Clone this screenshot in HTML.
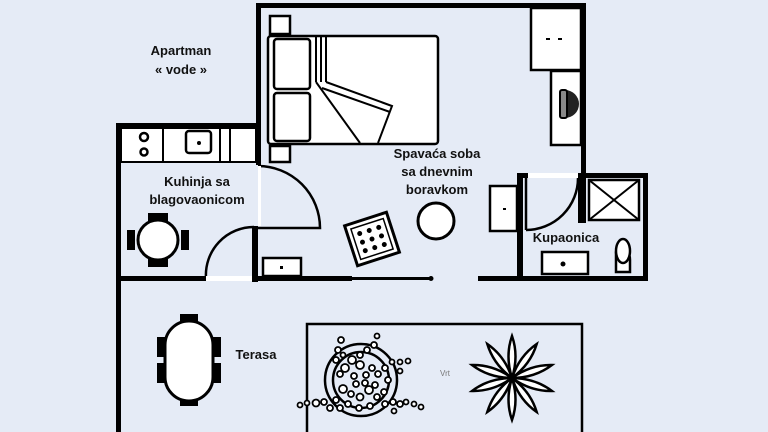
<!DOCTYPE html>
<html><head><meta charset="utf-8"><style>
html,body{margin:0;padding:0;background:#e5ebf6;}
svg{display:block}
text{font-family:"Liberation Sans",sans-serif;font-weight:bold;fill:#111;font-size:13px;text-anchor:middle}
</style></head><body>
<svg width="768" height="432" viewBox="0 0 768 432" xmlns="http://www.w3.org/2000/svg">
<rect width="768" height="432" fill="#e5ebf6"/>
<g fill="#000">
<rect x="256" y="3" width="330" height="5"/>
<rect x="256" y="3" width="5" height="162"/>
<rect x="581" y="3" width="5" height="172"/>
<rect x="116" y="123" width="145" height="5"/>
<rect x="116" y="123" width="5" height="309"/>
<rect x="116" y="276" width="90" height="5"/>
<rect x="252" y="226" width="6" height="56"/>
<rect x="252" y="276" width="100" height="5"/>
<rect x="352" y="277" width="80" height="3"/>
<circle cx="431" cy="278.5" r="2.5"/>
<rect x="478" y="276" width="170" height="5"/>
<rect x="517" y="174" width="6" height="107"/>
<rect x="517" y="173" width="11" height="5"/>
<rect x="578" y="173" width="70" height="5"/>
<rect x="643" y="173" width="5" height="108"/>
<rect x="578" y="173" width="8" height="50"/>
</g>
<g fill="none" stroke="#000" stroke-width="2.5">
<path d="M258 166 A62 62 0 0 1 320 228 L258 228"/>
<path d="M254 227 A48 48 0 0 0 206 278"/>
<path d="M578 178 A52 52 0 0 1 526 230"/>
<line x1="526" y1="178" x2="526" y2="230"/>
</g>
<rect x="258" y="166" width="3" height="60" fill="#fff"/>
<rect x="206" y="276" width="46" height="5" fill="#fff"/>
<rect x="528" y="173" width="50" height="5" fill="#fff"/>
<g fill="#fff" stroke="#000" stroke-width="2">
<rect x="121" y="128" width="135" height="34"/>
<line x1="163" y1="128" x2="163" y2="162"/>
<line x1="220" y1="128" x2="220" y2="162"/>
<line x1="230" y1="128" x2="230" y2="162"/>
<circle cx="144" cy="137" r="4" stroke-width="2.5"/>
<circle cx="144" cy="152" r="3.5" stroke-width="2.5"/>
<rect x="186" y="131" width="25" height="22" rx="3" stroke-width="2.5"/>
</g>
<circle cx="199" cy="143" r="2" fill="#000"/>
<g fill="#fff" stroke="#000" stroke-width="2.5">
<rect x="270" y="16" width="20" height="18"/>
<rect x="270" y="146" width="20" height="16"/>
<rect x="268" y="36" width="170" height="108" rx="3"/>
<rect x="274" y="39" width="36" height="50" rx="3"/>
<rect x="274" y="93" width="36" height="48" rx="3"/>
<line x1="316" y1="37" x2="316" y2="82" stroke-width="2"/>
<line x1="321" y1="37" x2="321" y2="82" stroke-width="2"/>
<line x1="326" y1="37" x2="326" y2="82" stroke-width="2"/>
<path d="M316 82 L360 143 M326 82 L392 106 L378 143" stroke-width="2"/>
<path d="M322 88 L390 112" stroke-width="2"/>
</g>
<g fill="#fff" stroke="#000" stroke-width="2.5">
<rect x="531" y="8" width="50" height="62"/>
<rect x="551" y="71" width="30" height="74"/>
<rect x="490" y="186" width="27" height="45"/>
<rect x="263" y="258" width="38" height="18"/>
</g>
<g fill="#000"><rect x="546" y="38" width="4" height="2"/><rect x="558" y="38" width="4" height="2"/><rect x="503" y="208" width="3" height="2"/><rect x="280" y="266" width="3" height="3"/></g>
<path d="M565 90 a14 14 0 0 1 0 28 z" fill="#222"/>
<rect x="560" y="90" width="7" height="28" rx="2" fill="#888" stroke="#000" stroke-width="2"/>
<g fill="#fff" stroke="#000" stroke-width="2.5">
<rect x="589" y="180" width="50" height="40"/>
<path d="M589 180 L639 220 M639 180 L589 220" stroke-width="2"/>
<rect x="542" y="252" width="46" height="22"/>
<path d="M616 252 L616 272 L630 272 L630 260 A8 12 0 0 0 616 252Z"/>
<ellipse cx="623" cy="251" rx="7" ry="12"/>
</g>
<circle cx="563" cy="264" r="2.5" fill="#000"/>
<g transform="rotate(-18 372 239)">
<rect x="350" y="218" width="44" height="42" fill="#fff" stroke="#000" stroke-width="3"/>
<rect x="355" y="223" width="34" height="32" fill="none" stroke="#000" stroke-width="1.5"/>
<g fill="#000">
<circle cx="362" cy="230" r="2.5"/><circle cx="372" cy="230" r="2.5"/><circle cx="382" cy="230" r="2.5"/>
<circle cx="362" cy="239" r="2.5"/><circle cx="372" cy="239" r="2.5"/><circle cx="382" cy="239" r="2.5"/>
<circle cx="362" cy="248" r="2.5"/><circle cx="372" cy="248" r="2.5"/><circle cx="382" cy="248" r="2.5"/>
</g></g>
<circle cx="436" cy="221" r="18" fill="#fff" stroke="#000" stroke-width="3"/>
<g fill="#000">
<rect x="148" y="213" width="20" height="8"/><rect x="148" y="259" width="20" height="8"/>
<rect x="127" y="230" width="8" height="20"/><rect x="181" y="230" width="8" height="20"/>
<rect x="180" y="314" width="18" height="12"/><rect x="180" y="394" width="18" height="12"/>
<rect x="157" y="337" width="10" height="20"/><rect x="157" y="363" width="10" height="20"/>
<rect x="211" y="337" width="10" height="20"/><rect x="211" y="363" width="10" height="20"/>
</g>
<circle cx="158" cy="240" r="20" fill="#fff" stroke="#000" stroke-width="3"/>
<rect x="165" y="321" width="48" height="80" rx="24" fill="#fff" stroke="#000" stroke-width="3"/>
<rect x="307" y="324" width="275" height="112" fill="none" stroke="#000" stroke-width="2.5"/>
<g fill="none" stroke="#000" stroke-width="2.5">
<circle cx="361" cy="380" r="36"/><circle cx="361" cy="380" r="28"/>
</g>
<g fill="#fff" stroke="#000" stroke-width="1.8">
<circle cx="341" cy="340" r="3"/><circle cx="338" cy="350" r="3"/><circle cx="336" cy="360" r="3"/><circle cx="343" cy="355" r="2.5"/><circle cx="340" cy="374" r="3"/>
<circle cx="345" cy="368" r="4"/><circle cx="352" cy="360" r="4"/><circle cx="360" cy="355" r="3"/><circle cx="367" cy="350" r="3"/><circle cx="374" cy="345" r="3"/><circle cx="377" cy="336" r="2.5"/>
<circle cx="360" cy="365" r="4"/><circle cx="354" cy="376" r="3"/><circle cx="366" cy="375" r="3"/><circle cx="372" cy="368" r="3"/><circle cx="378" cy="374" r="3"/><circle cx="385" cy="368" r="3"/>
<circle cx="392" cy="362" r="2.5"/><circle cx="400" cy="362" r="2.5"/><circle cx="408" cy="361" r="2.5"/><circle cx="400" cy="371" r="2.5"/><circle cx="388" cy="380" r="3"/>
<circle cx="343" cy="389" r="4"/><circle cx="351" cy="394" r="3"/><circle cx="360" cy="397" r="3.5"/><circle cx="369" cy="390" r="4"/><circle cx="377" cy="397" r="3"/><circle cx="384" cy="392" r="3"/>
<circle cx="356" cy="384" r="3"/><circle cx="365" cy="383" r="3"/><circle cx="375" cy="385" r="3"/>
<circle cx="300" cy="405" r="2.5"/><circle cx="307" cy="403" r="2.5"/><circle cx="316" cy="403" r="3.5"/><circle cx="324" cy="402" r="3"/><circle cx="330" cy="408" r="3"/><circle cx="336" cy="400" r="3"/><circle cx="340" cy="408" r="3"/><circle cx="348" cy="404" r="3"/>
<circle cx="385" cy="404" r="3"/><circle cx="393" cy="402" r="3"/><circle cx="400" cy="404" r="3"/><circle cx="406" cy="402" r="2.5"/><circle cx="414" cy="404" r="2.5"/><circle cx="421" cy="407" r="2.5"/><circle cx="394" cy="411" r="2.5"/>
<circle cx="359" cy="408" r="3"/><circle cx="370" cy="406" r="3"/>
</g>
<g fill="#fff" stroke="#000" stroke-width="2.5" transform="translate(512 378)">
<path id="pt" d="M0 0 Q-7 -22 0 -42 Q7 -22 0 0Z"/>
<use href="#pt" transform="rotate(36)"/><use href="#pt" transform="rotate(72)"/><use href="#pt" transform="rotate(108)"/><use href="#pt" transform="rotate(144)"/>
<use href="#pt" transform="rotate(180)"/><use href="#pt" transform="rotate(216)"/><use href="#pt" transform="rotate(252)"/><use href="#pt" transform="rotate(288)"/><use href="#pt" transform="rotate(324)"/>
</g>
<text x="181" y="55">Apartman</text>
<text x="181" y="74">« vode »</text>
<text x="197" y="186">Kuhinja sa</text>
<text x="197" y="204">blagovaonicom</text>
<text x="437" y="158">Spavaća soba</text>
<text x="437" y="176">sa dnevnim</text>
<text x="437" y="194">boravkom</text>
<text x="566" y="242">Kupaonica</text>
<text x="256" y="359">Terasa</text>
<text x="445" y="376" style="font-size:8px;font-weight:normal;fill:#777">Vrt</text>
</svg>
</body></html>
